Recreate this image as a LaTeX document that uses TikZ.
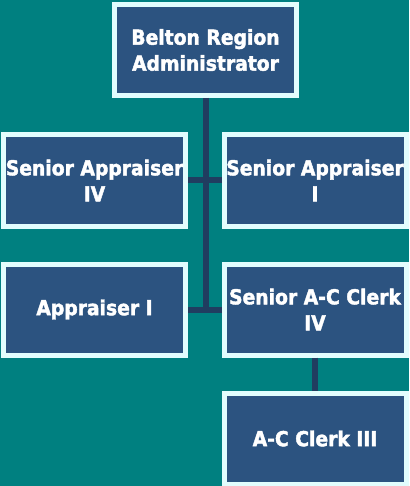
\documentclass[tikz,border=0pt]{standalone}
\usepackage{fontspec}
\setmainfont{DejaVu Sans}
\newfontfamily\boxfont[FakeStretch=0.91, BoldFeatures={FakeBold=2}]{DejaVu Sans}
\begin{document}
\begin{tikzpicture}[x=1pt,y=-1pt,
  box/.style={draw=boxedge, fill=boxfill, line width=5pt, minimum width=182pt, minimum height=91pt,
    inner sep=0pt, align=center, text=white, font=\boxfont\bfseries\fontsize{20.6}{26}\selectfont},
  conn/.style={draw=connc, line width=6pt}]
\definecolor{bg}{HTML}{008080}
\definecolor{boxfill}{HTML}{2C5380}
\definecolor{boxedge}{HTML}{E2FDFD}
\definecolor{connc}{HTML}{203D60}
\fill[bg] (0,0) rectangle (409,486);
\useasboundingbox (0,0) rectangle (409,486);
\node[box] (A) at (205.5,50) {Belton Region\\Administrator};
\node[box] (B) at (94.5,180.5) {Senior Appraiser\\IV};
\node[box] (C) at (315,180.5) {Senior Appraiser\\I};
\node[box] (D) at (94.5,309.5) {Appraiser I};
\node[box] (E) at (315,309.5) {Senior A-C Clerk\\IV};
\node[box] (F) at (315,438.5) {A-C Clerk III};
\coordinate (T) at ([yshift=-3pt]A.south |- D.east);
\draw[conn] (A.south) -- (T);
\draw[conn] (B.east) -- (C.west);
\draw[conn] (D.east) -- (E.west);
\draw[conn] (E.south) -- (F.north);
\end{tikzpicture}
\end{document}
